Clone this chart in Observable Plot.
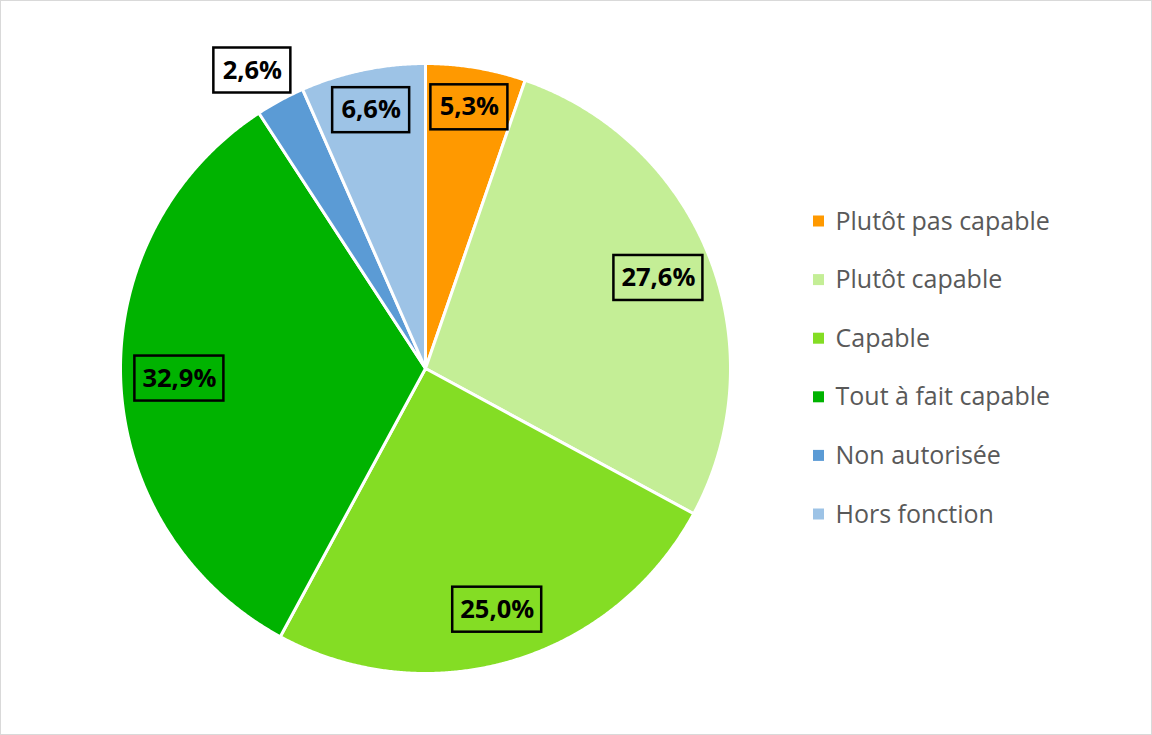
<!DOCTYPE html>
<html>
<head>
<meta charset="utf-8">
<script src="https://cdn.jsdelivr.net/npm/d3@7"></script>
<script src="https://cdn.jsdelivr.net/npm/@observablehq/plot@0.6"></script>
<style>
  html, body { margin: 0; padding: 0; background: #fff; }
  #wrap { position: relative; width: 1152px; height: 735px; }
  #wrap svg { display: block; }
  #border { position: absolute; left: 0; top: 0; width: 1150px; height: 733px; border: 1px solid #d9d9d9; pointer-events: none; }
</style>
</head>
<body>
<div id="wrap"><div id="border"></div></div>
<script>
const categories = ["Plutôt pas capable", "Plutôt capable", "Capable", "Tout à fait capable", "Non autorisée", "Hors fonction"];
const values = [5.3, 27.6, 25.0, 32.9, 2.6, 6.6];
const colors = ["#FF9900", "#C4EE96", "#84DD24", "#00B300", "#5B9BD5", "#9DC3E6"];
const labels = values.map(v => v.toFixed(1).replace(".", ",") + "%");

const R = 305;
const total = d3.sum(values);
let cum = 0;
const slicePts = [];
const labelData = [];
categories.forEach((cat, i) => {
  const a0 = cum / total * 2 * Math.PI;
  cum += values[i];
  const a1 = cum / total * 2 * Math.PI;
  const n = Math.max(2, Math.ceil((a1 - a0) / 0.005));
  slicePts.push({cat, x: 0, y: 0});
  for (let k = 0; k <= n; k++) {
    const a = a0 + (a1 - a0) * k / n;
    slicePts.push({cat, x: R * Math.sin(a), y: R * Math.cos(a)});
  }
  slicePts.push({cat, x: 0, y: 0});
  const am = (a0 + a1) / 2;
  const outside = values[i] < 3;
  const rr = outside ? 1.13 * R : (0.88 - 0.0022 * values[i]) * R;
  const aa = outside ? am - 0.03 : am;
  const lx = rr * Math.sin(aa), ly = rr * Math.cos(aa);
  const w = 12 * labels[i].length + 29, h = 45;
  labelData.push({cat, label: labels[i], x: lx, y: ly, x1: lx - w / 2, x2: lx + w / 2, y1: ly - h / 2, y2: ly + h / 2, outside});
});

// legend rows (1 data unit = 1 px, pie centre at pixel (425,368))
const legend = categories.map((cat, i) => {
  const py = 221 + 58.6 * i;
  return {cat, y: 368 - py, sx1: 813 - 425, sx2: 824 - 425, sy1: 368 - py - 5.5, sy2: 368 - py + 5.5, tx: 835 - 425};
});

const font = "'Open Sans', Lato, sans-serif";
const chart = Plot.plot({
  width: 1152,
  height: 735,
  margin: 0,
  x: {domain: [-425, 727], axis: null},
  y: {domain: [-367, 368], axis: null},
  color: {domain: categories, range: colors},
  style: {fontFamily: font, background: "white"},
  marks: [
    Plot.line(slicePts, {x: "x", y: "y", z: "cat", fill: "cat", stroke: "white", strokeWidth: 3, strokeLinejoin: "round", curve: "linear"}),
    Plot.rect(labelData, {x1: "x1", x2: "x2", y1: "y1", y2: "y2", fill: d => d.outside ? "white" : "none", stroke: "black", strokeWidth: 2.5}),
    Plot.text(labelData, {x: "x", y: "y", text: "label", fontSize: 25.5, fontWeight: "bold", fill: "black"}),
    Plot.rect(legend, {x1: "sx1", x2: "sx2", y1: "sy1", y2: "sy2", fill: "cat"}),
    Plot.text(legend, {x: "tx", y: "y", text: "cat", textAnchor: "start", fontSize: 25, fill: "#595959"})
  ]
});
document.getElementById("wrap").prepend(chart);
</script>
</body>
</html>
